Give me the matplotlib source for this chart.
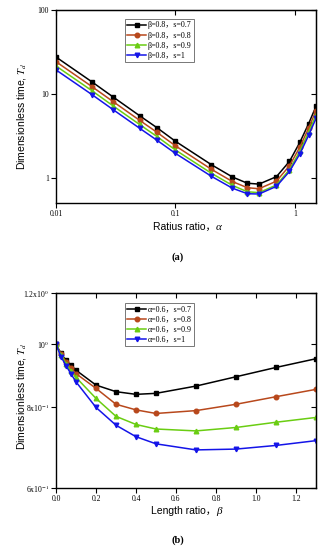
import matplotlib
matplotlib.use("Agg")
import matplotlib.pyplot as plt
from matplotlib.ticker import FixedLocator, FixedFormatter, NullLocator
from matplotlib.offsetbox import TextArea, HPacker, AnchoredOffsetbox
from matplotlib.font_manager import FontProperties

plt.rcParams['mathtext.fontset'] = 'stix'

# ---------------- data (a) ----------------
alpha = [0.01, 0.02, 0.03, 0.05, 0.07, 0.1, 0.2, 0.3, 0.4, 0.5, 0.7, 0.9, 1.1, 1.3, 1.5]
Ta_s07 = [27.5, 13.9, 9.2, 5.5, 3.95, 2.72, 1.43, 1.02, 0.86, 0.84, 1.03, 1.57, 2.65, 4.4, 7.1]
Ta_s08 = [24.2, 12.2, 8.1, 4.85, 3.48, 2.40, 1.26, 0.90, 0.76, 0.74, 0.91, 1.39, 2.33, 3.9, 6.3]
Ta_s09 = [21.5, 10.9, 7.2, 4.32, 3.10, 2.14, 1.13, 0.81, 0.68, 0.665, 0.82, 1.25, 2.08, 3.5, 5.6]
Ta_s10 = [19.3, 9.8, 6.5, 3.9, 2.80, 1.95, 1.04, 0.75, 0.645, 0.64, 0.79, 1.19, 1.93, 3.2, 5.1]
labels_a = ['β=0.8，s=0.7', 'β=0.8，s=0.8', 'β=0.8，s=0.9', 'β=0.8，s=1']

# ---------------- data (b) ----------------
beta = [0.0, 0.025, 0.05, 0.075, 0.1, 0.2, 0.3, 0.4, 0.5, 0.7, 0.9, 1.1, 1.3]
Tb_s07 = [1.0, 0.968, 0.945, 0.928, 0.912, 0.865, 0.845, 0.837, 0.840, 0.862, 0.891, 0.921, 0.950]
Tb_s08 = [1.0, 0.966, 0.940, 0.920, 0.901, 0.855, 0.808, 0.792, 0.782, 0.790, 0.808, 0.830, 0.852]
Tb_s09 = [1.0, 0.962, 0.934, 0.910, 0.889, 0.825, 0.774, 0.752, 0.740, 0.735, 0.744, 0.758, 0.771]
Tb_s10 = [1.0, 0.957, 0.927, 0.900, 0.875, 0.799, 0.750, 0.720, 0.702, 0.687, 0.689, 0.698, 0.710]
labels_b = ['α=0.6，s=0.7', 'α=0.6，s=0.8', 'α=0.6，s=0.9', 'α=0.6，s=1']

colors = ['#000000', '#B8481C', '#6ACD12', '#1414E8']
markers = ['s', 'o', '^', 'v']

serif_cjk = ['Liberation Serif', 'Noto Sans CJK SC']
sans_cjk = ['Liberation Sans', 'Noto Sans CJK SC']

fig = plt.figure(figsize=(3.25, 5.5), dpi=100)
W, H = 325, 550

def add_axes_px(l, t, r, b):
    return fig.add_axes([l / W, 1 - b / H, (r - l) / W, (b - t) / H])

ax1 = add_axes_px(56, 10, 316, 203)
ax2 = add_axes_px(56, 293, 316, 488)

tick_font = FontProperties(family='Liberation Serif', size=5.5)

def style_axes(ax):
    for s in ax.spines.values():
        s.set_linewidth(1.0)
    ax.tick_params(which='major', direction='out', length=3.5, width=0.8, pad=1.5,
                   top=False, right=False)
    ax.tick_params(which='minor', left=False, bottom=False, top=False, right=False)
    for lab in ax.get_xticklabels() + ax.get_yticklabels():
        lab.set_fontproperties(tick_font)

def mirror(ax, xt, yt):
    sx = ax.secondary_xaxis('top')
    sx.set_xticks(xt)
    sx.tick_params(direction='in', length=3.5, width=0.8, labeltop=False)
    sx.xaxis.set_minor_locator(NullLocator())
    sy = ax.secondary_yaxis('right')
    sy.set_yticks(yt)
    sy.tick_params(direction='in', length=3.5, width=0.8, labelright=False)
    sy.yaxis.set_minor_locator(NullLocator())

# ---------------- panel (a) ----------------
for y, c, m, lab in zip([Ta_s07, Ta_s08, Ta_s09, Ta_s10], colors, markers, labels_a):
    ax1.plot(alpha, y, color=c, marker=m, markersize=3.3, linewidth=1.1, label=lab)
ax1.set_xscale('log')
ax1.set_yscale('log')
ax1.set_xlim(0.01, 1.5)
ax1.set_ylim(0.5, 100)
ax1.xaxis.set_major_locator(FixedLocator([0.01, 0.1, 1]))
ax1.xaxis.set_major_formatter(FixedFormatter(['0.01', '0.1', '1']))
ax1.yaxis.set_major_locator(FixedLocator([1, 10, 100]))
ax1.yaxis.set_major_formatter(FixedFormatter(['1', '10', '100']))
ax1.xaxis.set_minor_locator(NullLocator())
ax1.yaxis.set_minor_locator(NullLocator())
style_axes(ax1)
mirror(ax1, [0.01, 0.1, 1], [1, 10, 100])

ax1.set_ylabel(r'Dimensionless time, $T_d$', family='Liberation Sans', fontsize=7.5)
ax1.yaxis.set_label_coords(-0.108, 0.45)

leg1 = ax1.legend(loc='upper left', bbox_to_anchor=(0.265, 0.953), borderaxespad=0,
                  prop=FontProperties(family=serif_cjk, size=5.8), frameon=True,
                  fancybox=False, edgecolor='#555555', handlelength=2.3,
                  handletextpad=0.2, labelspacing=0.25, borderpad=0.3)
leg1.get_frame().set_linewidth(0.7)

# ---------------- panel (b) ----------------
for y, c, m, lab in zip([Tb_s07, Tb_s08, Tb_s09, Tb_s10], colors, markers, labels_b):
    ax2.plot(beta, y, color=c, marker=m, markersize=3.3, linewidth=1.1, label=lab)
ax2.set_yscale('log')
ax2.set_xlim(0.0, 1.3)
ax2.set_ylim(0.6, 1.2)
xt2 = [0.0, 0.2, 0.4, 0.6, 0.8, 1.0, 1.2]
ax2.xaxis.set_major_locator(FixedLocator(xt2))
ax2.xaxis.set_major_formatter(FixedFormatter(['0.0', '0.2', '0.4', '0.6', '0.8', '1.0', '1.2']))
yt2 = [0.6, 0.8, 1.0, 1.2]
ax2.yaxis.set_major_locator(FixedLocator(yt2))
ax2.yaxis.set_major_formatter(FixedFormatter([r'6x10$^{-1}$', r'8x10$^{-1}$',
                                              r'10$^{0}$', r'1.2x10$^{0}$']))
ax2.yaxis.set_minor_locator(NullLocator())
style_axes(ax2)
mirror(ax2, xt2, yt2)

ax2.set_ylabel(r'Dimensionless time, $T_d$', family='Liberation Sans', fontsize=7.5)
ax2.yaxis.set_label_coords(-0.108, 0.468)

leg2 = ax2.legend(loc='upper left', bbox_to_anchor=(0.265, 0.949), borderaxespad=0,
                  prop=FontProperties(family=serif_cjk, size=5.8), frameon=True,
                  fancybox=False, edgecolor='#555555', handlelength=2.3,
                  handletextpad=0.2, labelspacing=0.25, borderpad=0.3)
leg2.get_frame().set_linewidth(0.7)

# ---------------- x labels (sans text + italic serif greek) ----------------
def xlabel_box(text, greek, xpx, ypx):
    t1 = TextArea(text, textprops=dict(family=sans_cjk, fontsize=7.5))
    t2 = TextArea(greek, textprops=dict(family='Liberation Serif', style='italic', fontsize=8))
    box = HPacker(children=[t1, t2], align='baseline', pad=0, sep=0)
    anch = AnchoredOffsetbox(loc='center', child=box, pad=0, borderpad=0, frameon=False,
                             bbox_to_anchor=(xpx / W, 1 - ypx / H),
                             bbox_transform=fig.transFigure)
    fig.add_artist(anch)

xlabel_box('Ratius ratio，', 'α', 187, 227)
xlabel_box('Length ratio，', 'β', 186, 511.5)

# ---------------- captions ----------------
fig.text(178 / W, 1 - 257 / H, '(a)', family='Liberation Serif', weight='bold',
         fontsize=7.5, ha='center', va='center')
fig.text(178 / W, 1 - 540.5 / H, '(b)', family='Liberation Serif', weight='bold',
         fontsize=7.5, ha='center', va='center')

fig.savefig('out.png', dpi=100)
